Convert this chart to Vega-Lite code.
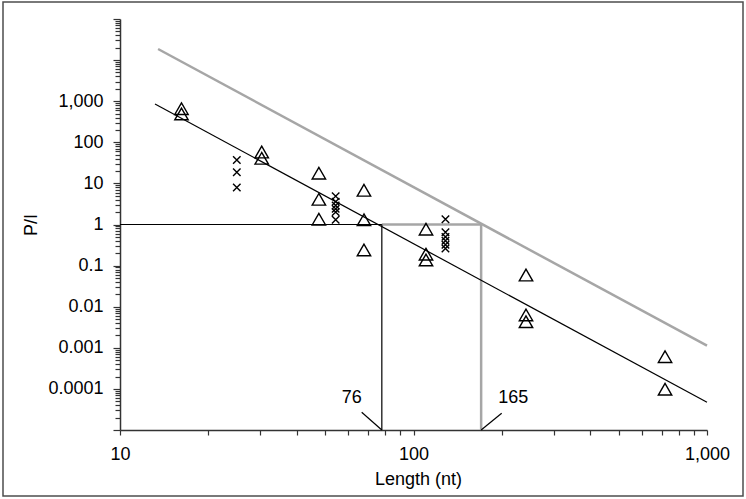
{
  "$schema": "https://vega.github.io/schema/vega-lite/v6.json",
  "width": 740,
  "height": 494,
  "autosize": {"type": "none"},
  "padding": {"left": 3, "top": 2, "right": 3, "bottom": 3},
  "background": "white",
  "config": {
    "view": {"stroke": "#4d4d4d", "strokeWidth": 1.5},
    "font": "Liberation Sans",
    "axis": {
      "grid": false,
      "labelFont": "Liberation Sans",
      "titleFont": "Liberation Sans",
      "labelFontSize": 18,
      "titleFontSize": 18,
      "titleFontWeight": "normal",
      "labelColor": "#000000",
      "titleColor": "#000000",
      "domainColor": "#333333",
      "tickColor": "#333333",
      "domainWidth": 1.5,
      "tickWidth": 1.2,
      "labelOverlap": false,
      "labelFlush": false,
      "labelBound": false
    }
  },
  "datasets": {
    "points": [
      {"group": "triangle", "length": 16.2, "ratio": 657},
      {"group": "triangle", "length": 16.2, "ratio": 488},
      {"group": "triangle", "length": 30.4, "ratio": 58},
      {"group": "triangle", "length": 30.4, "ratio": 40.8},
      {"group": "triangle", "length": 47.6, "ratio": 17.7},
      {"group": "triangle", "length": 47.6, "ratio": 4.1},
      {"group": "triangle", "length": 47.6, "ratio": 1.35},
      {"group": "triangle", "length": 67.8, "ratio": 6.8},
      {"group": "triangle", "length": 67.8, "ratio": 1.3},
      {"group": "triangle", "length": 67.8, "ratio": 0.24},
      {"group": "triangle", "length": 110.3, "ratio": 0.77},
      {"group": "triangle", "length": 110.3, "ratio": 0.19},
      {"group": "triangle", "length": 110.3, "ratio": 0.137},
      {"group": "triangle", "length": 241.7, "ratio": 0.059},
      {"group": "triangle", "length": 241.7, "ratio": 0.0063},
      {"group": "triangle", "length": 241.7, "ratio": 0.0043},
      {"group": "triangle", "length": 719.5, "ratio": 0.00061},
      {"group": "triangle", "length": 719.5, "ratio": 0.000098},
      {"group": "cross", "length": 25, "ratio": 37},
      {"group": "cross", "length": 25, "ratio": 18.6},
      {"group": "cross", "length": 25, "ratio": 7.9},
      {"group": "cross", "length": 54.3, "ratio": 4.9},
      {"group": "cross", "length": 54.3, "ratio": 3.6},
      {"group": "cross", "length": 54.3, "ratio": 2.9},
      {"group": "cross", "length": 54.3, "ratio": 2.4},
      {"group": "cross", "length": 54.3, "ratio": 2.0},
      {"group": "cross", "length": 54.3, "ratio": 1.3},
      {"group": "cross", "length": 128.5, "ratio": 1.34},
      {"group": "cross", "length": 128.5, "ratio": 0.65},
      {"group": "cross", "length": 128.5, "ratio": 0.5},
      {"group": "cross", "length": 128.5, "ratio": 0.4},
      {"group": "cross", "length": 128.5, "ratio": 0.32},
      {"group": "cross", "length": 128.5, "ratio": 0.26}
    ],
    "segments": [
      {"group": "limit", "x": 13.48, "y": 18600, "x2": 1000, "y2": 0.001125},
      {"group": "limit", "x": 78, "y": 1, "x2": 170, "y2": 1},
      {"group": "limit", "x": 170, "y": 1, "x2": 170, "y2": 1e-5},
      {"group": "fit", "x": 13.16, "y": 855, "x2": 1000, "y2": 4.72e-5},
      {"group": "fit", "x": 10, "y": 1, "x2": 78, "y2": 1},
      {"group": "fit", "x": 78, "y": 1, "x2": 78, "y2": 1e-5},
      {"group": "fit", "x": 66.6, "y": 2.7e-5, "x2": 78, "y2": 1e-5},
      {"group": "fit", "x": 199.7, "y": 2.55e-5, "x2": 170, "y2": 1e-5}
    ],
    "notes": [
      {"x": 61.6, "y": 5.9e-5, "label": "76"},
      {"x": 218.8, "y": 5.9e-5, "label": "165"}
    ]
  },
  "layer": [
    {
      "data": {"name": "segments"},
      "transform": [{"filter": "datum.group == 'limit'"}],
      "mark": {"type": "rule", "color": "#a6a6a6", "strokeWidth": 2.5},
      "encoding": {
        "x": {
          "field": "x", "type": "quantitative",
          "scale": {"type": "log", "domain": [10, 1000], "range": [117, 704], "nice": false, "zero": false},
          "axis": {
            "orient": "bottom",
            "offset": -66,
            "values": [10, 20, 30, 40, 50, 60, 70, 80, 90, 100, 200, 300, 400, 500, 600, 700, 800, 900, 1000],
            "labelExpr": "(datum.value == 10 || datum.value == 100 || datum.value == 1000) ? format(datum.value, ',') : ''",
            "title": "Length (nt)",
            "tickSize": 5,
            "labelPadding": 10,
            "titlePadding": 7,
            "titleX": 415
          }
        },
        "x2": {"field": "x2"},
        "y": {
          "field": "y", "type": "quantitative",
          "scale": {"type": "log", "domain": [1e-5, 100000], "range": [428, 17], "nice": false, "zero": false},
          "axis": {
            "orient": "left",
            "offset": -117,
            "values": [1e-5, 2e-5, 3e-5, 4e-5, 5e-5, 6e-5, 7e-5, 8e-5, 9e-5,
                       0.0001, 0.0002, 0.0003, 0.0004, 0.0005, 0.0006, 0.0007, 0.0008, 0.0009,
                       0.001, 0.002, 0.003, 0.004, 0.005, 0.006, 0.007, 0.008, 0.009,
                       0.01, 0.02, 0.03, 0.04, 0.05, 0.06, 0.07, 0.08, 0.09,
                       0.1, 0.2, 0.3, 0.4, 0.5, 0.6, 0.7, 0.8, 0.9,
                       1, 2, 3, 4, 5, 6, 7, 8, 9,
                       10, 20, 30, 40, 50, 60, 70, 80, 90,
                       100, 200, 300, 400, 500, 600, 700, 800, 900,
                       1000, 2000, 3000, 4000, 5000, 6000, 7000, 8000, 9000,
                       10000, 20000, 30000, 40000, 50000, 60000, 70000, 80000, 90000,
                       100000],
            "labelExpr": "(datum.value >= 0.00009 && datum.value <= 1001 && abs(log(datum.value)/LN10 - round(log(datum.value)/LN10)) < 0.000001) ? format(datum.value, ',') : ''",
            "title": "P/I",
            "tickSize": {"condition": {"test": "abs(log(datum.value)/LN10 - round(log(datum.value)/LN10)) < 0.000001", "value": 7}, "value": 5},
            "labelPadding": 10,
            "titlePadding": 7
          }
        },
        "y2": {"field": "y2"}
      }
    },
    {
      "data": {"name": "segments"},
      "transform": [{"filter": "datum.group == 'fit'"}],
      "mark": {"type": "rule", "color": "#000000", "strokeWidth": 1.2},
      "encoding": {
        "x": {"field": "x", "type": "quantitative", "scale": {"type": "log", "domain": [10, 1000], "range": [117, 704], "nice": false, "zero": false}},
        "x2": {"field": "x2"},
        "y": {"field": "y", "type": "quantitative", "scale": {"type": "log", "domain": [1e-5, 100000], "range": [428, 17], "nice": false, "zero": false}},
        "y2": {"field": "y2"}
      }
    },
    {
      "data": {"name": "points"},
      "transform": [{"filter": "datum.group == 'triangle'"}],
      "mark": {"type": "point", "shape": "triangle-up", "filled": false, "stroke": "#000000", "strokeWidth": 1.4, "size": 180, "opacity": 1},
      "encoding": {
        "x": {"field": "length", "type": "quantitative", "scale": {"type": "log", "domain": [10, 1000], "range": [117, 704], "nice": false, "zero": false}},
        "y": {"field": "ratio", "type": "quantitative", "scale": {"type": "log", "domain": [1e-5, 100000], "range": [428, 17], "nice": false, "zero": false}}
      }
    },
    {
      "data": {"name": "points"},
      "transform": [{"filter": "datum.group == 'cross'"}],
      "mark": {"type": "point", "shape": "M-1,-1L1,1M-1,1L1,-1", "filled": false, "stroke": "#000000", "strokeWidth": 1.4, "size": 56, "opacity": 1},
      "encoding": {
        "x": {"field": "length", "type": "quantitative", "scale": {"type": "log", "domain": [10, 1000], "range": [117, 704], "nice": false, "zero": false}},
        "y": {"field": "ratio", "type": "quantitative", "scale": {"type": "log", "domain": [1e-5, 100000], "range": [428, 17], "nice": false, "zero": false}}
      }
    },
    {
      "data": {"name": "notes"},
      "mark": {"type": "text", "font": "Liberation Sans", "fontSize": 18, "align": "center", "baseline": "middle", "color": "#000000"},
      "encoding": {
        "x": {"field": "x", "type": "quantitative", "scale": {"type": "log", "domain": [10, 1000], "range": [117, 704], "nice": false, "zero": false}},
        "y": {"field": "y", "type": "quantitative", "scale": {"type": "log", "domain": [1e-5, 100000], "range": [428, 17], "nice": false, "zero": false}},
        "text": {"field": "label"}
      }
    }
  ]
}
